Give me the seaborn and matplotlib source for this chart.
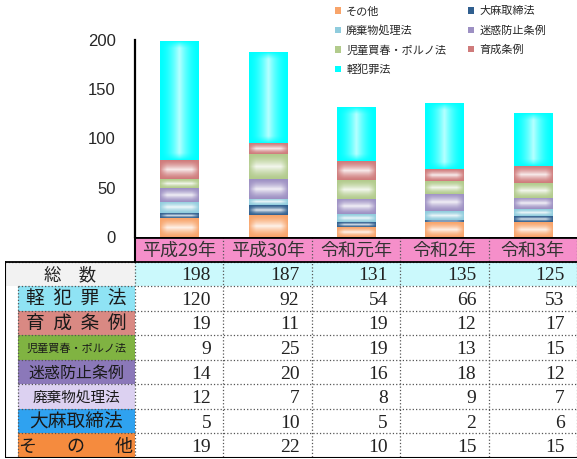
import numpy as np
import pandas as pd
import matplotlib
matplotlib.use('Agg')
import matplotlib.pyplot as plt
import seaborn as sns
from matplotlib.patches import Rectangle, Patch
from matplotlib.colors import to_rgb

years = ['平成29年', '平成30年', '令和元年', '令和2年', '令和3年']
totals = [198, 187, 131, 135, 125]

# stack order, bottom -> top
offenses = ['その他', '大麻取締法', '廃棄物処理法', '迷惑防止条例',
            '児童買春・ポルノ法', '育成条例', '軽犯罪法']
sonota = [19, 22, 10, 15, 15]
taima = [5, 10, 5, 2, 6]
haiki = [12, 7, 8, 9, 7]
meiwaku = [14, 20, 16, 18, 12]
jido = [9, 25, 19, 13, 15]
ikusei = [19, 11, 19, 12, 17]
keihan = [120, 92, 54, 66, 53]

bar_colors = ['#F8A46A', '#305F8F', '#8FCCDD', '#9D90C3', '#B2CB8C', '#CF7B7B', '#00FFFF']
cell_colors = ['#F58B3E', '#2FA2F0', '#DCD1F1', '#8B78B9', '#80B342', '#D98983', '#8FE3F4']
row_labels = ['そ  　 の 　  他', '大麻取締法', '廃棄物処理法', '迷惑防止条例',
              '児童買春・ポルノ法', '育  成  条  例', '軽  犯  罪  法']
label_sizes = [13, 13.5, 10.5, 11.5, 8, 13.5, 13.5]

df = pd.DataFrame({'year': years, 'その他': sonota, '大麻取締法': taima,
                   '廃棄物処理法': haiki, '迷惑防止条例': meiwaku,
                   '児童買春・ポルノ法': jido, '育成条例': ikusei, '軽犯罪法': keihan})

sns.set_style('white')
plt.rcParams['font.family'] = ['Noto Sans CJK JP', 'DejaVu Sans']

W, H = 577, 459
fig = plt.figure(figsize=(W / 100, H / 100), dpi=100)

# ---- bar chart ----
ax = fig.add_axes([135 / W, 1 - 237 / H, 442 / W, 197 / H])
ax.set_xlim(-0.5, 4.5)
ax.set_ylim(0, 200)


def add_glow(ax, bar, color):
    # excel-like "from centre" gradient: white in the middle, colour at the edges
    x0, y0 = bar.get_x(), bar.get_y()
    w, h = bar.get_width(), bar.get_height()
    if h <= 0:
        return
    p0 = ax.transData.transform((x0, y0))
    p1 = ax.transData.transform((x0 + w, y0 + h))
    pw, ph = np.abs(p1 - p0)
    nx, ny = max(int(pw * 2), 2), max(int(ph * 2), 2)
    xs = (np.arange(nx) + 0.5) / nx * pw
    ys = (np.arange(ny) + 0.5) / ny * ph
    dx = np.minimum(xs, pw - xs)
    dy = np.minimum(ys, ph - ys)
    if ph <= pw:
        fy = np.clip(dy / (ph / 2), 0, 1) ** 1.5
        fx = np.clip(dx / 7.0, 0, 1) ** 0.8
        strength = 0.85
    else:
        fx = np.clip(dx / (pw / 2), 0, 1) ** 1.8
        fy = np.clip(dy / 7.0, 0, 1) ** 0.8
        strength = 0.72
    mix = strength * fy[:, None] * fx[None, :]
    base = np.array(to_rgb(color))
    img = base * (1 - mix[..., None]) + mix[..., None]
    ax.imshow(img, extent=(x0, x0 + w, y0, y0 + h), origin='lower', aspect='auto',
              interpolation='bilinear', zorder=3)


bottom = np.zeros(len(years))
for name, col in zip(offenses, bar_colors):
    sns.barplot(x=df['year'], y=df[name], bottom=bottom, color=col, width=0.43,
                linewidth=0, ax=ax, zorder=2)
    bottom = bottom + df[name].values

# gradient fill on top of every bar segment
n = len(years)
for k, bar in enumerate(ax.patches):
    add_glow(ax, bar, bar_colors[k // n])

ax.set_xlim(-0.5, 4.5)
ax.set_ylim(0, 200)
ax.set_yticks([0, 50, 100, 150, 200])
ax.set_xticks([])
ax.set_xlabel('')
ax.set_ylabel('')
for s in ['top', 'right', 'bottom']:
    ax.spines[s].set_visible(False)
ax.spines['left'].set_linewidth(1.6)
ax.spines['left'].set_color('black')
ax.tick_params(axis='y', direction='in', length=5, width=1.4, pad=14, labelsize=12)
for lab in ax.get_yticklabels():
    lab.set_fontfamily('Liberation Sans')

legend_order = [0, 2, 4, 6, 1, 3, 5]
handles = [Patch(facecolor=bar_colors[i], edgecolor='none') for i in legend_order]
labels = [offenses[i] for i in legend_order]
fig.legend(handles, labels, loc='upper left', bbox_to_anchor=(325 / W, 1.008), ncol=2,
           frameon=False, fontsize=8, handlelength=0.5, handleheight=0.5,
           handletextpad=0.5, labelspacing=0.8, columnspacing=2.0)

# ---- data table ----
tb = fig.add_axes([5 / W, 1 - 458 / H, 572 / W, 221 / H])
u = 442 / 5
xl = -130 / u
xc = -117 / u
tb.set_xlim(xl, 5)
tb.set_ylim(9, 0)
tb.axis('off')

# header row
for j, yr in enumerate(years):
    tb.add_patch(Rectangle((j, 0), 1, 1, facecolor='#F58FCA', edgecolor='none'))
    tb.text(j + 0.5, 0.55, yr, ha='center', va='center', fontsize=13, color='#333333')
# total row
tb.add_patch(Rectangle((xl, 1), -xl, 1, facecolor='#F2F2F2', edgecolor='none'))
tb.text(xl / 2, 1.55, '総　数', ha='center', va='center', fontsize=12.5, color='#222222')
for j, v in enumerate(totals):
    tb.add_patch(Rectangle((j, 1), 1, 1, facecolor='#CBF9FC', edgecolor='none'))
    tb.text(j + 0.86, 1.58, str(v), ha='right', va='center', fontsize=14,
            family='Liberation Serif', color='#222222')

# offense rows, top -> bottom
table_rows = [keihan, ikusei, jido, meiwaku, haiki, taima, sonota]
for r, vals in enumerate(table_rows):
    i = r + 2
    k = len(offenses) - 1 - r
    tb.add_patch(Rectangle((xc, i), -xc, 1, facecolor=cell_colors[k], edgecolor='none'))
    tb.text(xc / 2, i + 0.55, row_labels[k], ha='center', va='center',
            fontsize=label_sizes[k], color='#1a1a1a')
    for j, v in enumerate(vals):
        tb.text(j + 0.86, i + 0.58, str(v), ha='right', va='center', fontsize=14,
                family='Liberation Serif', color='#222222')

# grid lines
dot = dict(color='#555555', lw=0.9, ls=':')
for i in range(1, 9):
    x_start = xl if i == 1 else xc
    tb.plot([x_start, 5], [i, i], **dot)
for j in range(1, 5):
    tb.plot([j, j], [0, 9], **dot)
tb.plot([xc, xc], [2, 9], **dot)
tb.plot([0, 0], [1, 9], **dot)
tb.plot([4.995, 4.995], [0, 9], **dot)
tb.plot([0, 5], [0, 0], color='black', lw=2)
tb.plot([0, 0], [0, 1], color='black', lw=1.5)
tb.plot([xl, 5], [1, 1], color='black', lw=1.3)
tb.plot([xl, xl], [1, 9], color='black', lw=1.5)
tb.plot([xl, 5], [8.99, 8.99], color='black', lw=1.5)

fig.savefig('out.png', dpi=100)
